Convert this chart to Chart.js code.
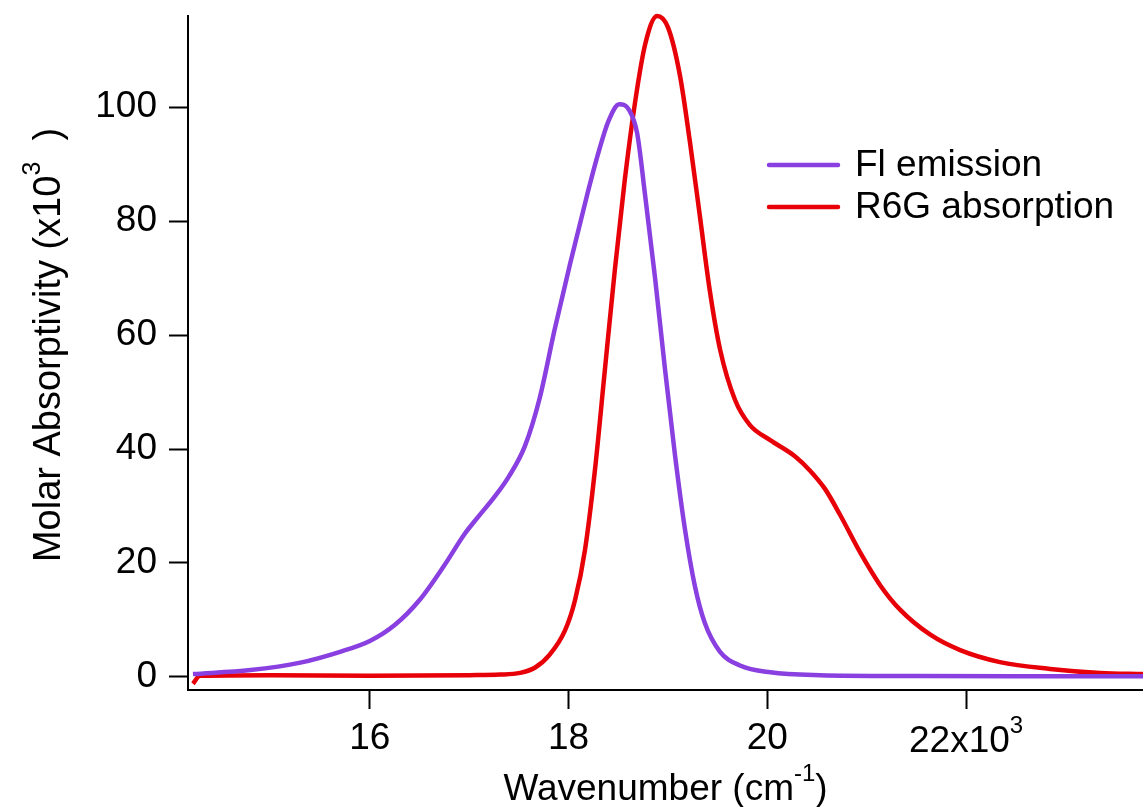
<!DOCTYPE html>
<html>
<head>
<meta charset="utf-8">
<title>Fl emission / R6G absorption</title>
<script src="https://cdn.jsdelivr.net/npm/chart.js@4.4.1/dist/chart.umd.min.js"></script>
<style>
  html, body { margin: 0; padding: 0; background: #fff; }
  #wrap { width: 1143px; height: 807px; }
</style>
</head>
<body>
<div id="wrap"><canvas id="spectraChart" width="1143" height="807"></canvas></div>
<script>
// values (wavenumber in cm-1, molar absorptivity in x10^3)
const flWavenumber = [14220, 14800, 15300, 15700, 16000, 16250, 16500, 16750, 16950, 17100, 17250, 17400,
  17560, 17710, 17860, 18015, 18185, 18300, 18400, 18510, 18610, 18690, 18770, 18870, 18970, 19070,
  19170, 19270, 19370, 19520, 19725, 20030, 20530, 21500, 22500, 23780];
const flEmission = [0.5, 1.2, 2.5, 4.4, 6.3, 9.1, 13.5, 19.6, 25, 28.3, 31.5, 35.2,
  40.5, 49, 61, 72.5, 84.5, 92, 97.5, 100.5, 99.5, 95.4, 84.5, 70, 54, 39,
  26, 16, 9.5, 4.5, 2, 0.8, 0.3, 0.15, 0.1, 0.1];

const r6gWavenumber = [14220, 14290, 15000, 16000, 17000, 17310, 17510, 17660, 17810, 17965,
  18065, 18165, 18265, 18365, 18465, 18565, 18670, 18770, 18890, 19000,
  19120, 19220, 19320, 19420, 19525, 19675, 19825, 20025, 20280, 20430,
  20580, 20730, 20935, 21135, 21335, 21640, 21940, 22340, 22845, 23350, 23780];
const r6gAbsorption = [-1.2, 0.2, 0.3, 0.2, 0.3, 0.4, 0.7, 1.6, 3.9, 8.2,
  13.5, 22.3, 36.3, 53.9, 71.4, 87.2, 101, 111, 116, 114,
  105.6, 94, 81, 67.9, 57.4, 48.6, 44.2, 41.6, 38.7, 36.2,
  33, 28.5, 21.8, 16.1, 11.8, 7.4, 4.7, 2.6, 1.4, 0.7, 0.5];

const seriesLabels = ["Fl emission", "R6G absorption"];
const xTicks = [16000, 18000, 20000, 22000];
const xTickLabels = ["16", "18", "20", "22"];
const yTicks = [0, 20, 40, 60, 80, 100];

const FONT = '"Liberation Sans", Arial, sans-serif';
const SIZE = 37;
const SUP = 24;

function toPoints(xs, ys) {
  return xs.map((x, i) => ({ x: x, y: ys[i] }));
}

// draws text pieces, some of them as superscripts
function drawRich(ctx, parts, x, y, align, size) {
  size = size || SIZE;
  const sup = Math.round(size * SUP / SIZE);
  let total = 0;
  parts.forEach(p => {
    ctx.font = (p.sup ? sup : size) + "px " + FONT;
    p.w = ctx.measureText(p.t).width;
    total += p.w;
  });
  let cx = align === "center" ? x - total / 2 : x;
  ctx.textAlign = "left";
  ctx.textBaseline = "alphabetic";
  parts.forEach(p => {
    ctx.font = (p.sup ? sup : size) + "px " + FONT;
    ctx.fillText(p.t, cx, p.sup ? y - size * 0.52 : y);
    cx += p.w;
  });
}

const extras = {
  id: "extras",
  afterDraw(chart) {
    const ctx = chart.ctx;
    const xs = chart.scales.x;
    ctx.save();
    ctx.fillStyle = "#000";

    // last x tick label with the exponent
    drawRich(ctx, [{ t: xTickLabels[3] + "x10" }, { t: "3", sup: true }],
      xs.getPixelForValue(xTicks[3]), 752, "center");

    // axis titles
    drawRich(ctx, [{ t: "Wavenumber (cm" }, { t: "-1", sup: true }, { t: ")" }],
      (chart.chartArea.left + chart.chartArea.right) / 2, 800, "center");

    ctx.save();
    ctx.translate(60, 345);
    ctx.rotate(-Math.PI / 2);
    drawRich(ctx, [{ t: "Molar Absorptivity (x10" }, { t: "3", sup: true }, { t: "  )" }], 0, 0, "center", 38);
    ctx.restore();

    // legend inside the plot
    chart.data.datasets.forEach((ds, i) => {
      const ly = 165 + i * 42;
      ctx.strokeStyle = ds.borderColor;
      ctx.lineWidth = 4.5;
      ctx.lineCap = "round";
      ctx.beginPath();
      ctx.moveTo(769, ly);
      ctx.lineTo(838, ly);
      ctx.stroke();
      ctx.font = SIZE + "px " + FONT;
      ctx.textAlign = "left";
      ctx.textBaseline = "middle";
      ctx.fillText(ds.label, 855, ly + 1);
    });
    ctx.restore();
  }
};

const ctx = document.getElementById("spectraChart").getContext("2d");
const spectraChart = new Chart(ctx, {
  type: "line",
  data: {
    datasets: [
      {
        label: seriesLabels[0],
        data: toPoints(flWavenumber, flEmission),
        borderColor: "#8a3fe0",
        borderWidth: 4.5,
        pointRadius: 0,
        cubicInterpolationMode: "monotone",
        fill: false,
        clip: false
      },
      {
        label: seriesLabels[1],
        data: toPoints(r6gWavenumber, r6gAbsorption),
        borderColor: "#e80008",
        borderWidth: 4.5,
        pointRadius: 0,
        cubicInterpolationMode: "monotone",
        fill: false,
        clip: false
      }
    ]
  },
  options: {
    responsive: false,
    animation: false,
    layout: { padding: { top: 16, right: 0, bottom: 0, left: 0 } },
    plugins: {
      legend: { display: false },
      tooltip: { enabled: false }
    },
    scales: {
      x: {
        type: "linear",
        min: 14170,
        max: 23780,
        afterFit: s => { s.height = 117; s.paddingLeft = 0; s.paddingRight = 0; },
        afterBuildTicks: s => { s.ticks = xTicks.map(v => ({ value: v })); },
        ticks: {
          autoSkip: false,
          maxRotation: 0,
          padding: 8,
          color: "#000",
          font: { family: FONT, size: SIZE },
          callback: v => {
            const i = xTicks.indexOf(v);
            return i === xTicks.length - 1 ? "" : xTickLabels[i];
          }
        },
        grid: { drawOnChartArea: false, drawTicks: true, tickLength: 19, tickWidth: 2, tickColor: "#000" },
        border: { color: "#000", width: 2 }
      },
      y: {
        min: -2.3,
        max: 116,
        afterFit: s => { s.width = 188; s.paddingTop = 0; s.paddingBottom = 0; },
        afterBuildTicks: s => { s.ticks = yTicks.map(v => ({ value: v })); },
        ticks: {
          padding: 12,
          color: "#000",
          font: { family: FONT, size: SIZE }
        },
        grid: { drawOnChartArea: false, drawTicks: true, tickLength: 19, tickWidth: 2, tickColor: "#000" },
        border: { color: "#000", width: 2 }
      }
    }
  },
  plugins: [extras]
});
</script>
</body>
</html>
